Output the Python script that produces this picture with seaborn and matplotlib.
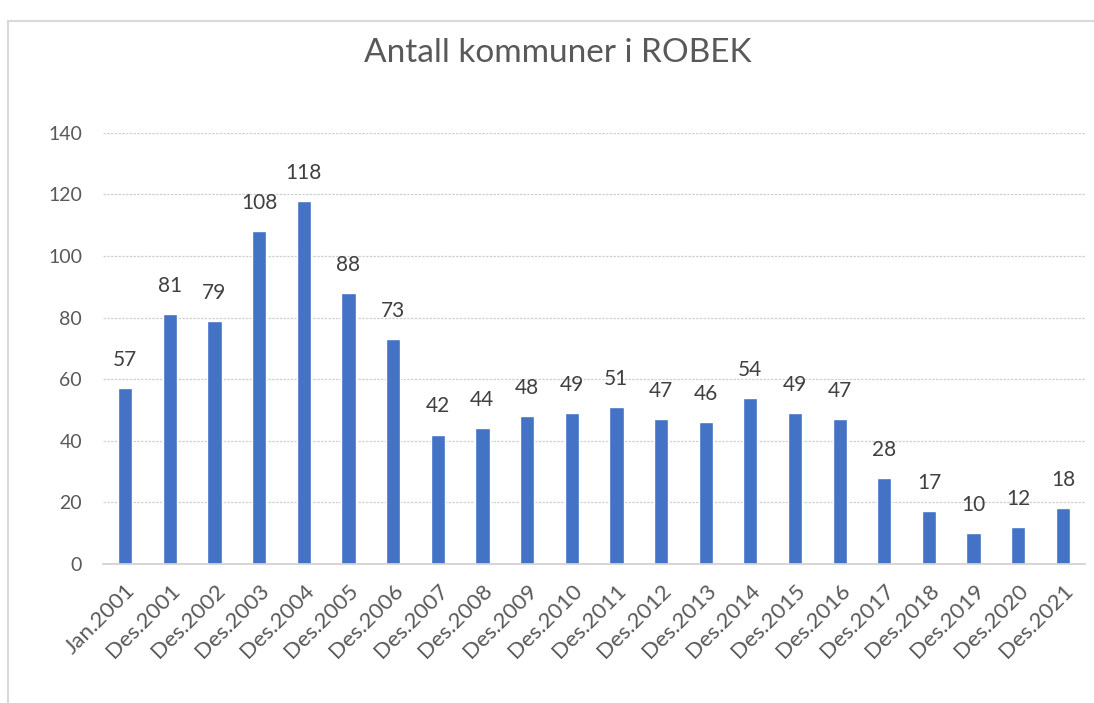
import matplotlib
matplotlib.use('Agg')
import matplotlib.pyplot as plt
from matplotlib.patches import Rectangle
import seaborn as sns
import pandas as pd

periods = ["Jan.2001", "Des.2001", "Des.2002", "Des.2003", "Des.2004", "Des.2005",
           "Des.2006", "Des.2007", "Des.2008", "Des.2009", "Des.2010", "Des.2011",
           "Des.2012", "Des.2013", "Des.2014", "Des.2015", "Des.2016", "Des.2017",
           "Des.2018", "Des.2019", "Des.2020", "Des.2021"]
counts = [57, 81, 79, 108, 118, 88, 73, 42, 44, 48, 49, 51, 47, 46, 54, 49, 47,
          28, 17, 10, 12, 18]
yticks = [0, 20, 40, 60, 80, 100, 120, 140]

BAR = "#4472C4"
TXT = "#595959"

sns.set_theme(style="white")
plt.rcParams['font.family'] = ['Lato', 'DejaVu Sans']

df = pd.DataFrame({"periode": periods, "antall": counts})

fig = plt.figure(figsize=(10.94, 7.03), dpi=100)
ax = fig.add_axes([0.094, 0.198, 0.898, 0.613])

sns.barplot(data=df, x="periode", y="antall", color=BAR, width=0.32,
            saturation=1, ax=ax)

ax.set_ylim(0, 140)
ax.set_yticks(yticks)
ax.set_xlim(-0.5, len(periods) - 0.5)
ax.yaxis.grid(True, color="#d0d0d0", linestyle=(0, (2, 1)), linewidth=0.9)
ax.set_axisbelow(True)
for s in ["top", "right", "left"]:
    ax.spines[s].set_visible(False)
ax.spines["bottom"].set_color("#d0d0d0")
ax.spines["bottom"].set_linestyle((0, (2, 1)))

ax.set_xlabel("")
ax.set_ylabel("")
ax.tick_params(axis="both", length=0, colors=TXT)
ax.tick_params(axis="y", pad=15, labelsize=14)
ax.tick_params(axis="x", pad=12, labelsize=16)
plt.setp(ax.get_xticklabels(), rotation=45, ha="right", rotation_mode="anchor")

for c in ax.containers:
    ax.bar_label(c, padding=13, fontsize=15, color="#404040")

fig.text(0.51, 0.925, "Antall kommuner i ROBEK", ha="center", va="center",
         fontsize=24, color="#595959")

# chart frame like the Excel screenshot
fig.patches.append(Rectangle((0.0075, -0.02), 1.2, 1.01 - 0.02, transform=fig.transFigure,
                             fill=False, edgecolor="#d9d9d9", linewidth=1.5))

fig.savefig("out.png", dpi=100)
